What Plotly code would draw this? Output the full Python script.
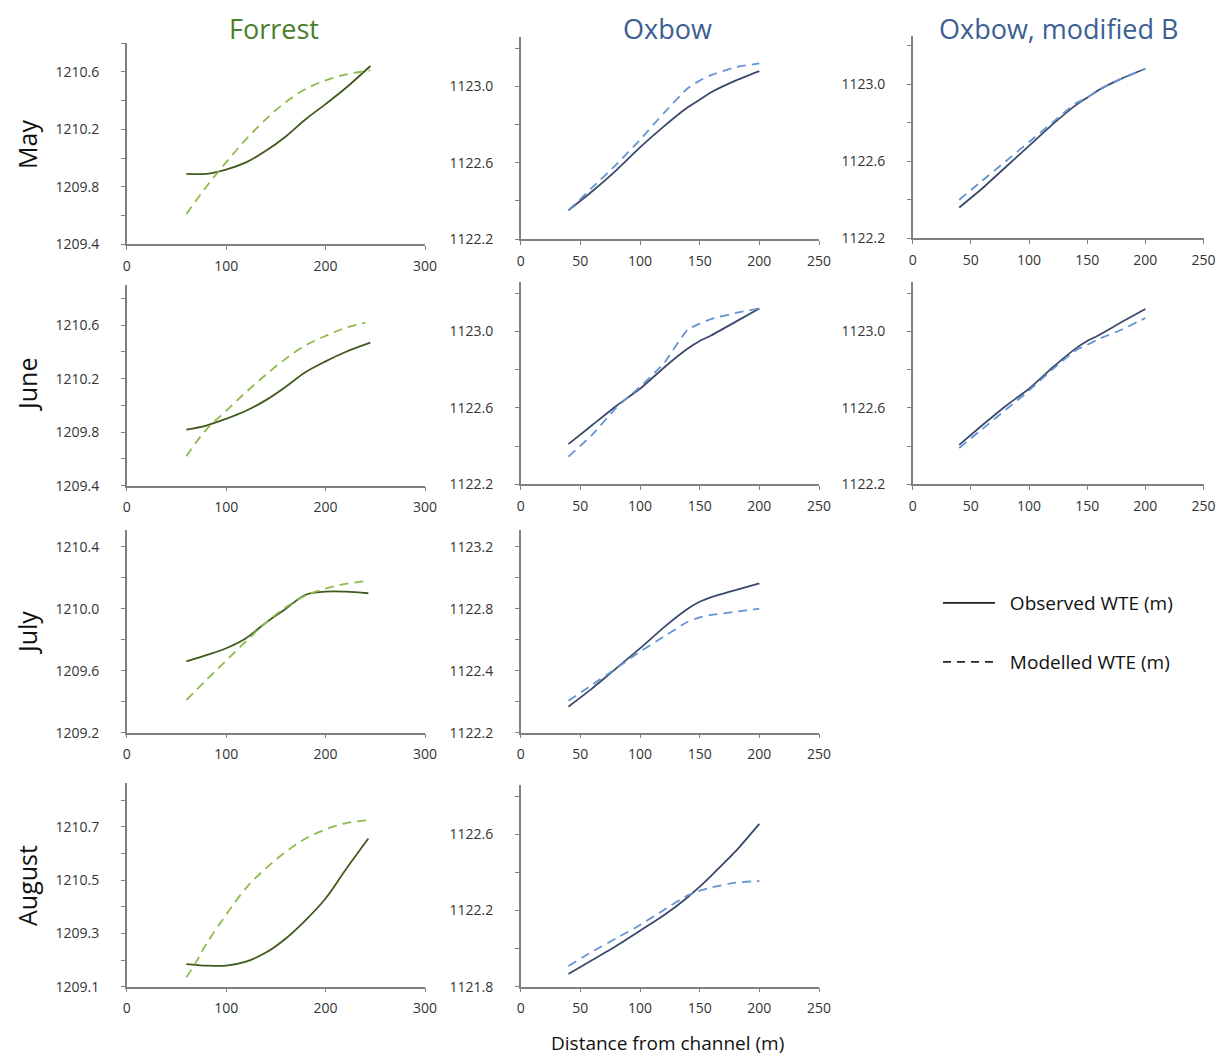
import plotly.graph_objects as go

# page has an 8px body margin: the figure is sized so it stays inside the visible window
OFF = 8
W, H = 1225 - 2 * OFF, 1055 - OFF

# ---------------- data ----------------
# Forrest (x = distance from channel, m)
forrest_may_obs_x = [60, 80, 100, 120, 140, 160, 180, 200, 220, 245]
forrest_may_obs_y = [1209.89, 1209.89, 1209.92, 1209.97, 1210.05, 1210.15, 1210.27, 1210.375, 1210.485, 1210.64]
forrest_may_mod_x = [60, 80, 100, 120, 140, 160, 180, 200, 220, 245]
forrest_may_mod_y = [1209.61, 1209.80, 1209.97, 1210.13, 1210.27, 1210.39, 1210.48, 1210.54, 1210.58, 1210.61]

forrest_jun_obs_x = [60, 80, 100, 120, 140, 160, 180, 200, 220, 245]
forrest_jun_obs_y = [1209.82, 1209.85, 1209.90, 1209.96, 1210.04, 1210.14, 1210.25, 1210.33, 1210.40, 1210.47]
forrest_jun_mod_x = [60, 80, 100, 120, 140, 160, 180, 200, 220, 240]
forrest_jun_mod_y = [1209.62, 1209.82, 1209.96, 1210.10, 1210.23, 1210.35, 1210.45, 1210.52, 1210.58, 1210.62]

forrest_jul_obs_x = [60, 80, 100, 120, 140, 160, 180, 200, 220, 243]
forrest_jul_obs_y = [1209.66, 1209.70, 1209.745, 1209.81, 1209.91, 1210.00, 1210.09, 1210.11, 1210.11, 1210.10]
forrest_jul_mod_x = [60, 80, 100, 120, 140, 160, 180, 200, 220, 243]
forrest_jul_mod_y = [1209.41, 1209.54, 1209.665, 1209.79, 1209.91, 1210.01, 1210.085, 1210.13, 1210.16, 1210.18]

forrest_aug_obs_x = [60, 80, 100, 120, 140, 160, 180, 200, 220, 243]
forrest_aug_obs_y = [1209.185, 1209.179, 1209.179, 1209.194, 1209.228, 1209.281, 1209.35, 1209.431, 1209.538, 1209.656]
forrest_aug_mod_x = [60, 70, 80, 100, 120, 140, 160, 180, 200, 220, 243]
forrest_aug_mod_y = [1209.135, 1209.194, 1209.26, 1209.37, 1209.47, 1209.544, 1209.606, 1209.656, 1209.69, 1209.713, 1209.725]

# Oxbow
oxbow_x = [40, 60, 80, 100, 120, 140, 150, 160, 180, 200]
oxbow_may_obs_y = [1122.35, 1122.45, 1122.56, 1122.68, 1122.79, 1122.89, 1122.93, 1122.97, 1123.03, 1123.08]
oxbow_may_mod_y = [1122.35, 1122.47, 1122.59, 1122.72, 1122.86, 1122.99, 1123.03, 1123.06, 1123.10, 1123.12]
oxbow_jun_obs_y = [1122.41, 1122.51, 1122.61, 1122.70, 1122.81, 1122.91, 1122.95, 1122.98, 1123.05, 1123.12]
oxbow_jun_mod_y = [1122.345, 1122.46, 1122.60, 1122.71, 1122.834, 1123.01, 1123.04, 1123.065, 1123.096, 1123.12]
oxbow_jul_obs_y = [1122.168, 1122.286, 1122.415, 1122.544, 1122.68, 1122.80, 1122.845, 1122.875, 1122.92, 1122.963]
oxbow_jul_mod_y = [1122.206, 1122.31, 1122.415, 1122.523, 1122.62, 1122.716, 1122.744, 1122.76, 1122.78, 1122.80]
oxbow_aug_obs_y = [1121.867, 1121.94, 1122.014, 1122.094, 1122.175, 1122.27, 1122.325, 1122.385, 1122.51, 1122.655]
oxbow_aug_mod_y = [1121.909, 1121.984, 1122.054, 1122.124, 1122.203, 1122.28, 1122.304, 1122.322, 1122.346, 1122.355]

# Oxbow, modified B
modb_may_obs_y = [1122.36, 1122.46, 1122.57, 1122.68, 1122.79, 1122.89, 1122.93, 1122.97, 1123.03, 1123.08]
modb_may_mod_y = [1122.40, 1122.50, 1122.60, 1122.70, 1122.80, 1122.90, 1122.93, 1122.97, 1123.03, 1123.08]
modb_jun_obs_y = [1122.406, 1122.51, 1122.61, 1122.70, 1122.81, 1122.91, 1122.95, 1122.98, 1123.05, 1123.117]
modb_jun_mod_y = [1122.39, 1122.49, 1122.59, 1122.69, 1122.80, 1122.90, 1122.93, 1122.96, 1123.01, 1123.07]

col_titles = ["Forrest", "Oxbow", "Oxbow, modified B"]
row_titles = ["May", "June", "July", "August"]
legend_labels = ["Observed WTE (m)", "Modelled WTE (m)"]
x_title = "Distance from channel (m)"

# ---------------- style ----------------
FONT = "Open Sans"
AX = "#808080"
TXT = "#333333"
G_OBS, G_MOD = "#3e5a1d", "#8dbb4c"
B_OBS, B_MOD = "#3a4a6d", "#6494d4"
DASH = "9px,6px"

def fx(p):
    return (p - OFF) / W

def fy(p):
    return 1 - (p - OFF) / H

def px_x(a, b):
    return [fx(a), fx(b)]

def px_y(bottom, top):
    return [fy(bottom), fy(top)]

COLX = {0: (126.7, 425.0, [0, 300], 100), 1: (520.7, 819.0, [0, 250], 50), 2: (912.7, 1203.5, [0, 250], 50)}

panels = [
    (0, 244.3, 43.0, [1209.4, 1210.8], [1209.4, 1209.8, 1210.2, 1210.6], None, 1209.4, 0.2,
     forrest_may_obs_x, forrest_may_obs_y, forrest_may_mod_x, forrest_may_mod_y, (G_OBS, G_MOD)),
    (1, 239.0, 36.7, [1122.2, 1123.26], [1122.2, 1122.6, 1123.0], None, 1122.2, 0.2,
     oxbow_x, oxbow_may_obs_y, oxbow_x, oxbow_may_mod_y, (B_OBS, B_MOD)),
    (2, 238.3, 36.0, [1122.2, 1123.25], [1122.2, 1122.6, 1123.0], None, 1122.2, 0.2,
     oxbow_x, modb_may_obs_y, oxbow_x, modb_may_mod_y, (B_OBS, B_MOD)),
    (0, 485.7, 285.1, [1209.4, 1210.9], [1209.4, 1209.8, 1210.2, 1210.6], None, 1209.4, 0.2,
     forrest_jun_obs_x, forrest_jun_obs_y, forrest_jun_mod_x, forrest_jun_mod_y, (G_OBS, G_MOD)),
    (1, 484.3, 281.7, [1122.2, 1123.26], [1122.2, 1122.6, 1123.0], None, 1122.2, 0.2,
     oxbow_x, oxbow_jun_obs_y, oxbow_x, oxbow_jun_mod_y, (B_OBS, B_MOD)),
    (2, 484.3, 281.7, [1122.2, 1123.26], [1122.2, 1122.6, 1123.0], None, 1122.2, 0.2,
     oxbow_x, modb_jun_obs_y, oxbow_x, modb_jun_mod_y, (B_OBS, B_MOD)),
    (0, 732.7, 530.0, [1209.2, 1210.508], [1209.2, 1209.6, 1210.0, 1210.4], None, 1209.2, 0.2,
     forrest_jul_obs_x, forrest_jul_obs_y, forrest_jul_mod_x, forrest_jul_mod_y, (G_OBS, G_MOD)),
    (1, 732.7, 530.0, [1122.0, 1123.308], [1122.0, 1122.4, 1122.8, 1123.2], ["1122.2", "1122.4", "1122.8", "1123.2"], 1122.0, 0.2,
     oxbow_x, oxbow_jul_obs_y, oxbow_x, oxbow_jul_mod_y, (B_OBS, B_MOD)),
    (0, 986.7, 783.3, [1209.1, 1209.863], [1209.1, 1209.3, 1209.5, 1209.7], ["1209.1", "1209.3", "1210.5", "1210.7"], 1209.1, 0.1,
     forrest_aug_obs_x, forrest_aug_obs_y, forrest_aug_mod_x, forrest_aug_mod_y, (G_OBS, G_MOD)),
    (1, 986.7, 785.0, [1121.8, 1122.859], [1121.8, 1122.2, 1122.6], None, 1121.8, 0.2,
     oxbow_x, oxbow_aug_obs_y, oxbow_x, oxbow_aug_mod_y, (B_OBS, B_MOD)),
]

fig = go.Figure()
layout = {}
for i, (col, yb, yt, yr, tv, tt, m0, md, ox, oy, mx, my, (c_obs, c_mod)) in enumerate(panels, start=1):
    xa, ya = f"x{i}", f"y{i}"
    xl, xr, xrange, xd = COLX[col]
    sm = 1.0 if col == 0 else 0.5
    fig.add_trace(go.Scatter(x=ox, y=oy, mode="lines", xaxis=xa, yaxis=ya, showlegend=False,
                             line=dict(color=c_obs, width=1.8, shape="spline", smoothing=sm)))
    fig.add_trace(go.Scatter(x=mx, y=my, mode="lines", xaxis=xa, yaxis=ya, showlegend=False,
                             line=dict(color=c_mod, width=1.8, dash=DASH, shape="spline", smoothing=sm)))
    key = "" if i == 1 else str(i)
    layout[f"xaxis{key}"] = dict(
        domain=px_x(xl, xr), anchor=ya, range=xrange, tick0=0, dtick=xd, automargin=False,
        showline=True, linecolor=AX, linewidth=1.5, ticks="outside", ticklen=4, tickwidth=1.2,
        tickcolor=AX, showgrid=False, zeroline=False, fixedrange=True,
        tickfont=dict(family=FONT, size=14, color=TXT), ticklabelstandoff=4,
    )
    ydict = dict(
        domain=px_y(yb, yt), anchor=xa, range=yr, tickvals=tv, automargin=False,
        showline=True, linecolor=AX, linewidth=1.5, ticks="outside", ticklen=4, tickwidth=1.2,
        tickcolor=AX, showgrid=False, zeroline=False, fixedrange=True,
        tickfont=dict(family=FONT, size=14, color=TXT), ticklabelstandoff=19,
        minor=dict(ticks="outside", ticklen=4, tickwidth=1.2, tickcolor=AX, tick0=m0, dtick=md, showgrid=False),
    )
    if tt is None:
        ydict["tickformat"] = ".1f"
    else:
        ydict["ticktext"] = tt
    layout[f"yaxis{key}"] = ydict

# legend entries
NBSP = "\u00a0\u00a0"
fig.add_trace(go.Scatter(x=[None], y=[None], mode="lines", name=NBSP + legend_labels[0], legend="legend",
                         line=dict(color="#222222", width=1.6)))
fig.add_trace(go.Scatter(x=[None], y=[None], mode="lines", name=NBSP + legend_labels[1], legend="legend2",
                         line=dict(color="#222222", width=1.6, dash="8px,6px")))

annotations = []
col_centers = [274, 667, 1058]
col_colors = ["#4b7e2b", "#3c5e93"]
for t, cx, cc in zip(col_titles, col_centers, [col_colors[0], col_colors[1], col_colors[1]]):
    annotations.append(dict(text=t, x=fx(cx), y=1, xref="paper", yref="paper",
                            xanchor="center", yanchor="top", showarrow=False,
                            font=dict(family=FONT, size=27, color=cc)))
for t, cy in zip(row_titles, [145, 385, 633, 886]):
    annotations.append(dict(text=t, x=0, y=fy(cy), xref="paper", yref="paper",
                            xanchor="left", yanchor="middle", showarrow=False, textangle=-90,
                            font=dict(family=FONT, size=25, color="#111111")))
annotations.append(dict(text=x_title, x=fx(667), y=fy(1043), xref="paper", yref="paper",
                        xanchor="center", yanchor="middle", showarrow=False,
                        font=dict(family=FONT, size=19, color="#111111")))

leg_common = dict(xanchor="left", yanchor="middle", bgcolor="rgba(0,0,0,0)", borderwidth=0,
                  font=dict(family=FONT, size=19, color="#111111"), itemwidth=52)
fig.update_layout(
    width=W, height=H, margin=dict(l=0, r=0, t=0, b=0, pad=0),
    paper_bgcolor="white", plot_bgcolor="white",
    font=dict(family=FONT, color=TXT),
    annotations=annotations,
    legend=dict(x=fx(938), y=fy(603), **leg_common),
    legend2=dict(x=fx(938), y=fy(662), **leg_common),
    **layout,
)

fig.write_html("out.html")
